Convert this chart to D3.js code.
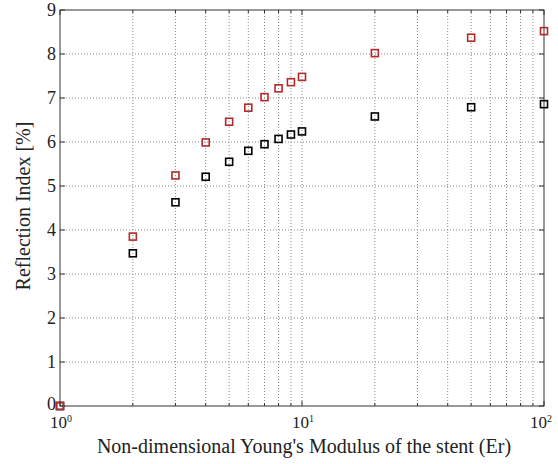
<!DOCTYPE html>
<html><head><meta charset="utf-8">
<script src="https://cdn.jsdelivr.net/npm/d3@7"></script>
<style>body{margin:0;background:#fff}svg{display:block}text{font-family:"Liberation Serif","Times New Roman",serif}</style>
</head><body><svg id="c" width="558" height="464"></svg>
<script>
const erValues = [1,2,3,4,5,6,7,8,9,10,20,50,100];
const redSeries = [0,3.85,5.24,5.99,6.46,6.78,7.02,7.22,7.36,7.48,8.02,8.37,8.52];
const blackSeries = [0,3.47,4.63,5.21,5.55,5.80,5.95,6.07,6.17,6.24,6.58,6.79,6.86];
const yTicks = [0,1,2,3,4,5,6,7,8,9];
const xMajor = [1,10,100];
const xMinor = [2,3,4,5,6,7,8,9,20,30,40,50,60,70,80,90];

const svg = d3.select("#c");
const L=60,R=544,T=10,B=406;
const x = d3.scaleLog().domain([1,100]).range([L,R]);
const y = d3.scaleLinear().domain([0,9]).range([B,T]);

// grid
const g = svg.append("g");
g.selectAll(".gy").data(yTicks.slice(1,-1)).join("line")
 .attr("x1",L).attr("x2",R).attr("y1",d=>y(d)).attr("y2",d=>y(d))
 .attr("stroke","#8a8a8a").attr("stroke-width",1).attr("stroke-dasharray","1,2");
g.selectAll(".gx").data(xMinor.concat([10])).join("line")
 .attr("x1",d=>x(d)).attr("x2",d=>x(d)).attr("y1",T).attr("y2",B)
 .attr("stroke","#8a8a8a").attr("stroke-width",1).attr("stroke-dasharray","1,2");

// box
svg.append("rect").attr("x",L).attr("y",T).attr("width",R-L).attr("height",B-T)
 .attr("fill","none").attr("stroke","#333").attr("stroke-width",1);

// ticks
const tk = svg.append("g").attr("stroke","#333");
yTicks.forEach(d=>{
  tk.append("line").attr("x1",L).attr("x2",L+5).attr("y1",y(d)).attr("y2",y(d));
  tk.append("line").attr("x1",R).attr("x2",R-5).attr("y1",y(d)).attr("y2",y(d));
});
xMajor.concat(xMinor).forEach(d=>{
  const len = xMajor.includes(d)?5:3;
  tk.append("line").attr("x1",x(d)).attr("x2",x(d)).attr("y1",B).attr("y2",B-len);
  tk.append("line").attr("x1",x(d)).attr("x2",x(d)).attr("y1",T).attr("y2",T+len);
});

// y tick labels
svg.selectAll(".yl").data(yTicks).join("text")
 .attr("x",L-4).attr("y",d=>y(d)+(d===0?4:6)).attr("text-anchor","end")
 .attr("font-size",18).attr("fill","#222").text(d=>d);

// x tick labels 10^n
xMajor.forEach((d,i)=>{
  const t = svg.append("text").attr("x",x(d)-(i===2?14:10)).attr("y",B+22).attr("text-anchor","start")
   .attr("font-size",17).attr("fill","#222");
  t.append("tspan").text("10");
  t.append("tspan").attr("dy",-6).attr("font-size",10).text(Math.round(Math.log10(d)));
});

// axis labels
svg.append("text").attr("x",304).attr("y",453).attr("text-anchor","middle")
 .attr("font-size",20).attr("fill","#222").text("Non-dimensional Young's Modulus of the stent (Er)");
svg.append("text").attr("transform","translate(30,206) rotate(-90)")
 .attr("text-anchor","middle").attr("font-size",20).attr("fill","#222").text("Reflection Index [%]");

// markers
const s=7;
svg.selectAll(".bk").data(erValues.map((e,i)=>[e,blackSeries[i]])).join("rect")
 .attr("x",d=>x(d[0])-s/2).attr("y",d=>y(d[1])-s/2).attr("width",s).attr("height",s)
 .attr("fill","none").attr("stroke","#000").attr("stroke-width",1.6);
svg.selectAll(".rd").data(erValues.map((e,i)=>[e,redSeries[i]])).join("rect")
 .attr("x",d=>x(d[0])-s/2).attr("y",d=>y(d[1])-s/2).attr("width",s).attr("height",s)
 .attr("fill","none").attr("stroke","#b22a2a").attr("stroke-width",1.6);
</script></body></html>
